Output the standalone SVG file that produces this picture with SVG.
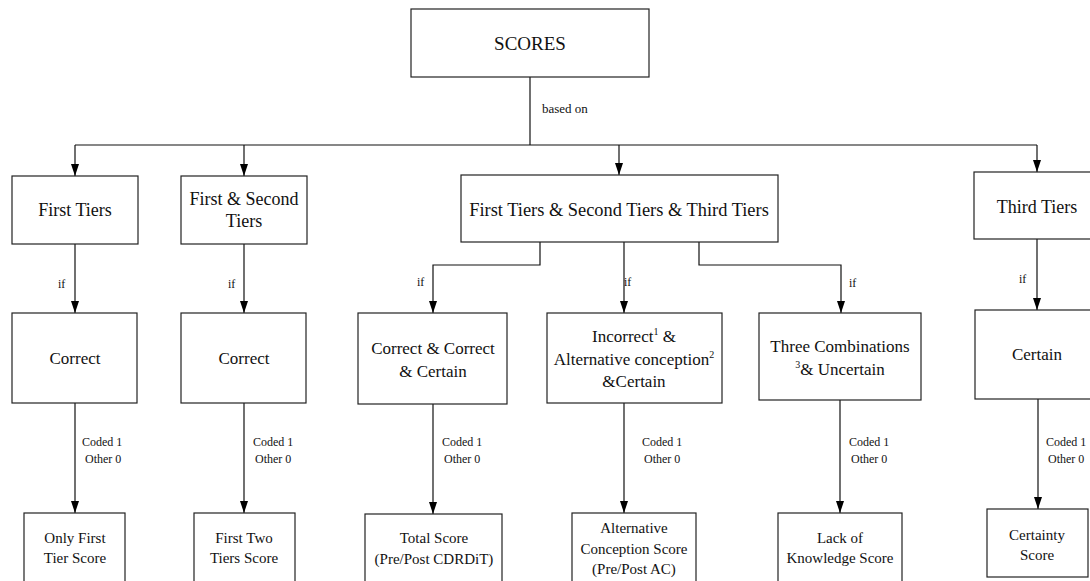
<svg xmlns="http://www.w3.org/2000/svg" width="1090" height="581" viewBox="0 0 1090 581" font-family="'Liberation Serif', 'Times New Roman', serif">
  <defs>
    <marker id="arrow" markerUnits="userSpaceOnUse" markerWidth="12" markerHeight="8" viewBox="0 0 12 8" refX="12" refY="4" orient="auto">
      <path d="M0,0 L12,4 L0,8 z" fill="#000"/>
    </marker>
    <style>
      .box { fill: #fff; stroke: #222; stroke-width: 1.2; }
      .ln { fill: none; stroke: #111; stroke-width: 1.2; }
      .arr { fill: none; stroke: #111; stroke-width: 1.2; marker-end: url(#arrow); }
      text, tspan { font-family: "Liberation Serif", "Times New Roman", serif; }
      text { fill: #111; text-anchor: middle; }
      .t19 { font-size: 19px; }
      .t18 { font-size: 18px; }
      .t17 { font-size: 17px; }
      .t15 { font-size: 15px; }
      .lbl { font-size: 12px; text-anchor: start; }
      .sup { font-size: 10px; }
    </style>
  </defs>

  <rect width="1090" height="581" fill="#fff"/>

  <!-- connectors -->
  <g id="connectors">
    <!-- root trunk and bus -->
    <path class="ln" d="M530,77 V145"/>
    <path class="ln" d="M75,145 H1037"/>
    <path class="arr" d="M75,145 V176"/>
    <path class="arr" d="M244,145 V176"/>
    <path class="arr" d="M619,145 V175"/>
    <path class="arr" d="M1037,145 V172"/>
    <text class="lbl" x="542" y="113" style="font-size:13px">based on</text>

    <!-- tier boxes to conditions -->
    <path class="arr" d="M75,244 V313"/>
    <path class="arr" d="M244,244 V313"/>
    <path class="arr" d="M540,242 V265 H433 V313"/>
    <path class="arr" d="M624,242 V313"/>
    <path class="arr" d="M699,242 V265 H841 V313"/>
    <path class="arr" d="M1037,239 V310"/>
    <text class="lbl" x="58" y="288">if</text>
    <text class="lbl" x="228" y="288">if</text>
    <text class="lbl" x="417" y="286">if</text>
    <text class="lbl" x="624" y="286">if</text>
    <text class="lbl" x="849" y="287">if</text>
    <text class="lbl" x="1019" y="283">if</text>

    <!-- conditions to scores -->
    <path class="arr" d="M75,403 V513"/>
    <path class="arr" d="M244,403 V513"/>
    <path class="arr" d="M433,404 V514"/>
    <path class="arr" d="M624,403 V513"/>
    <path class="arr" d="M840,400 V513"/>
    <path class="arr" d="M1038,399 V509"/>

    <text class="lbl" x="82" y="446">Coded 1</text>
    <text class="lbl" x="85" y="463">Other 0</text>
    <text class="lbl" x="253" y="446">Coded 1</text>
    <text class="lbl" x="255" y="463">Other 0</text>
    <text class="lbl" x="442" y="446">Coded 1</text>
    <text class="lbl" x="444" y="463">Other 0</text>
    <text class="lbl" x="642" y="446">Coded 1</text>
    <text class="lbl" x="644" y="463">Other 0</text>
    <text class="lbl" x="849" y="446">Coded 1</text>
    <text class="lbl" x="851" y="463">Other 0</text>
    <text class="lbl" x="1046" y="446">Coded 1</text>
    <text class="lbl" x="1048" y="463">Other 0</text>
  </g>

  <!-- root -->
  <g id="scores">
    <rect class="box" x="411" y="9" width="238" height="68"/>
    <text class="t19" x="530" y="50">SCORES</text>
  </g>

  <!-- tier groups -->
  <g id="first-tiers">
    <rect class="box" x="12" y="176" width="126" height="68"/>
    <text class="t18" x="75" y="216">First Tiers</text>
  </g>
  <g id="first-second-tiers">
    <rect class="box" x="181" y="176" width="126" height="68"/>
    <text class="t18" x="244" y="205">First &amp; Second</text>
    <text class="t18" x="244" y="227">Tiers</text>
  </g>
  <g id="all-tiers">
    <rect class="box" x="461" y="175" width="317" height="67"/>
    <text x="619" y="216" style="font-size:18.4px">First Tiers &amp; Second Tiers &amp; Third Tiers</text>
  </g>
  <g id="third-tiers">
    <rect class="box" x="974" y="172" width="126" height="67"/>
    <text class="t18" x="1037" y="213">Third Tiers</text>
  </g>

  <!-- conditions -->
  <g id="correct-1">
    <rect class="box" x="12" y="313" width="125" height="90"/>
    <text class="t17" x="75" y="364">Correct</text>
  </g>
  <g id="correct-2">
    <rect class="box" x="181" y="313" width="125" height="90"/>
    <text class="t17" x="244" y="364">Correct</text>
  </g>
  <g id="correct-correct-certain">
    <rect class="box" x="358" y="313" width="149" height="91"/>
    <text class="t17" x="433" y="354">Correct &amp; Correct</text>
    <text class="t17" x="433" y="377">&amp; Certain</text>
  </g>
  <g id="incorrect-ac-certain">
    <rect class="box" x="547" y="313" width="175" height="90"/>
    <text class="t17" x="634" y="342">Incorrect<tspan class="sup" dy="-7">1</tspan><tspan dy="7"> &amp;</tspan></text>
    <text class="t17" x="634" y="365">Alternative conception<tspan class="sup" dy="-7">2</tspan></text>
    <text class="t17" x="634" y="387">&amp;Certain</text>
  </g>
  <g id="three-combinations">
    <rect class="box" x="759" y="313" width="162" height="87"/>
    <text class="t17" x="840" y="352">Three Combinations</text>
    <text class="t17" x="840" y="375"><tspan class="sup" dy="-7">3</tspan><tspan dy="7">&amp; Uncertain</tspan></text>
  </g>
  <g id="certain">
    <rect class="box" x="975" y="310" width="125" height="89"/>
    <text class="t17" x="1037" y="360">Certain</text>
  </g>

  <!-- scores -->
  <g id="only-first-tier-score">
    <rect class="box" x="24" y="513" width="101" height="75"/>
    <text class="t15" x="75" y="543">Only First</text>
    <text class="t15" x="75" y="563">Tier Score</text>
  </g>
  <g id="first-two-tiers-score">
    <rect class="box" x="194" y="513" width="101" height="75"/>
    <text class="t15" x="244" y="543">First Two</text>
    <text class="t15" x="244" y="563">Tiers Score</text>
  </g>
  <g id="total-score">
    <rect class="box" x="365" y="514" width="137" height="74"/>
    <text class="t15" x="434" y="543">Total Score</text>
    <text class="t15" x="434" y="564">(Pre/Post CDRDiT)</text>
  </g>
  <g id="alternative-conception-score">
    <rect class="box" x="572" y="513" width="124" height="75"/>
    <text class="t15" x="634" y="533">Alternative</text>
    <text class="t15" x="634" y="554">Conception Score</text>
    <text class="t15" x="634" y="574">(Pre/Post AC)</text>
  </g>
  <g id="lack-of-knowledge-score">
    <rect class="box" x="778" y="513" width="124" height="75"/>
    <text class="t15" x="840" y="543">Lack of</text>
    <text class="t15" x="840" y="563">Knowledge Score</text>
  </g>
  <g id="certainty-score">
    <rect class="box" x="987" y="509" width="101" height="68"/>
    <text class="t15" x="1037" y="540">Certainty</text>
    <text class="t15" x="1037" y="560">Score</text>
  </g>
</svg>
